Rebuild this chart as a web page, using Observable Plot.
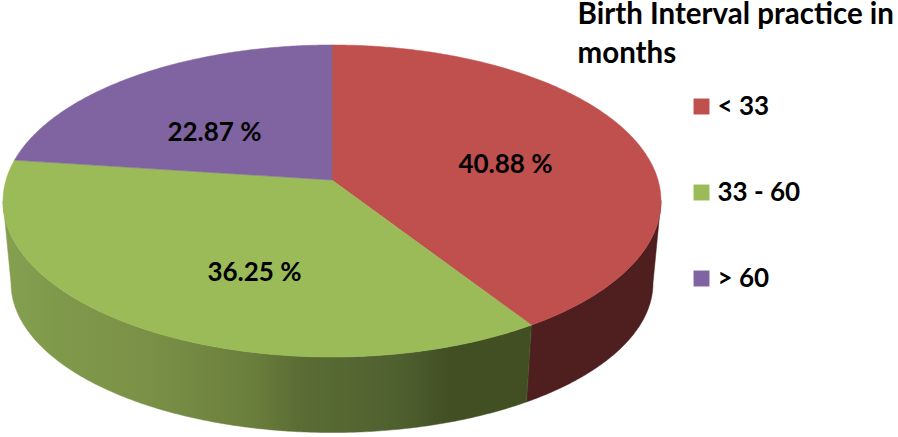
<!DOCTYPE html>
<html>
<head>
<meta charset="utf-8">
<script src="https://cdn.jsdelivr.net/npm/d3@7"></script>
<script src="https://cdn.jsdelivr.net/npm/@observablehq/plot@0.6"></script>
<style>
html,body{margin:0;padding:0;background:#fff;overflow:hidden}
svg{display:block}
</style>
</head>
<body>
<div id="chart"></div>
<script>
// Data
const categories = ["< 33", "33 - 60", "> 60"];
const shares = [40.88, 36.25, 22.87];
const shareLabels = ["40.88 %", "36.25 %", "22.87 %"];
const legendTitle = ["Birth Interval practice in", "months"];

// Appearance
const topColors = ["#c0504d", "#9bbb59", "#8064a2"];
const rimGreenX = [10, 60, 150, 250, 300, 400, 450, 530];
const rimGreenColor = ["#859f50", "#7f994b", "#7a9046", "#6b7f3d", "#5b6d34", "#4f6030", "#414f22", "#414f22"];
const rimFills = ["#4e1f1e", "url(#rimGreen)", "#4c3b61"];
const labelX = [505, 254, 214];
const labelY = [164, 272, 132];
const legendY = [106, 192, 278];

// Perspective pie: the apex sits behind the centre of the visible ellipse
const apexX = 332, apexY = 180;
const spanX = 326, spanY = 153.2, tilt = 0.1346;
const topMidY = 201, topRy = 156, topRx = 329;
const botMidY = 283, botRy = 149.5, botRx = 321;

const project = (deg) => {
  const t = deg * Math.PI / 180, w = 1 + tilt * Math.cos(t);
  return [apexX + spanX * Math.sin(t) / w, apexY - spanY * Math.cos(t) / w];
};
const toBottom = ([x, y]) => [
  apexX + (x - apexX) * botRx / topRx,
  botMidY + (y - topMidY) * botRy / topRy
];

// The rim is only seen between the two side tangents of the top ellipse
const sideAngle = Math.acos(-tilt) * 180 / Math.PI;

const total = d3.sum(shares);
const ends = d3.cumsum(shares).map((v) => v / total * 360);
const starts = [0, ...ends.slice(0, -1)];

const wedgePoints = [];
const rimPoints = [];
categories.forEach((c, i) => {
  const a0 = starts[i], a1 = ends[i];
  const steps = Math.ceil(a1 - a0) * 2;
  for (let k = 0; k <= steps; k++) {
    const deg = a0 + (a1 - a0) * k / steps;
    const p = project(deg);
    wedgePoints.push({c, x2: p[0], y2: p[1], fill: topColors[i]});
  }
  const r0 = Math.max(a0, sideAngle), r1 = Math.min(a1, 360 - sideAngle);
  if (r1 > r0) {
    const rimSteps = Math.ceil(r1 - r0) * 2;
    for (let k = 0; k <= rimSteps; k++) {
      const p = project(r0 + (r1 - r0) * k / rimSteps);
      const b = toBottom(p);
      rimPoints.push({c, x1: p[0], y1: p[1], x2: b[0], y2: b[1], fill: rimFills[i]});
    }
  }
});

const labelData = shareLabels.map((t, i) => ({t, x: labelX[i], y: labelY[i]}));
const legendData = categories.map((c, i) => ({c, y: legendY[i], fill: topColors[i]}));
const font = "Lato, 'Open Sans', sans-serif";

// The rim's shading, placed through the x scale
const rimGradient = (index, {x}) => {
  const svgNS = "http://www.w3.org/2000/svg";
  const defs = document.createElementNS(svgNS, "defs");
  const g = document.createElementNS(svgNS, "linearGradient");
  g.setAttribute("id", "rimGreen");
  g.setAttribute("gradientUnits", "userSpaceOnUse");
  const x0 = x(rimGreenX[0]), x1 = x(rimGreenX[rimGreenX.length - 1]);
  g.setAttribute("x1", x0); g.setAttribute("x2", x1);
  g.setAttribute("y1", 0); g.setAttribute("y2", 0);
  rimGreenX.forEach((v, i) => {
    const s = document.createElementNS(svgNS, "stop");
    s.setAttribute("offset", (x(v) - x0) / (x1 - x0));
    s.setAttribute("stop-color", rimGreenColor[i]);
    g.append(s);
  });
  defs.append(g);
  return defs;
};

const chart = Plot.plot({
  width: 898,
  height: 437,
  margin: 0,
  x: {type: "linear", domain: [0, 898], range: [0, 898], axis: null},
  y: {type: "linear", domain: [0, 437], range: [0, 437], axis: null},
  color: {type: "identity"},
  style: {background: "#fff", fontFamily: font},
  marks: [
    rimGradient,
    Plot.area(rimPoints, {x1: "x1", y1: "y1", x2: "x2", y2: "y2", z: "c", fill: "fill", stroke: "fill", strokeWidth: 0.5, curve: "linear"}),
    Plot.area(wedgePoints, {x1: () => apexX, y1: () => apexY, x2: "x2", y2: "y2", z: "c", fill: "fill", stroke: "fill", strokeWidth: 0.5, curve: "linear"}),
    Plot.text(labelData, {x: "x", y: "y", text: "t", fill: "#000", fontSize: 26, fontWeight: 700, textAnchor: "middle", lineAnchor: "middle"}),
    Plot.text(legendTitle, {x: () => 577, y: (d, i) => 14 + i * 39, text: (d) => d, fill: "#000", fontSize: 29.5, fontWeight: 700, textAnchor: "start", lineAnchor: "middle"}),
    Plot.dot(legendData, {x: () => 701, y: "y", symbol: "square", r: 9, fill: "fill", stroke: "none"}),
    Plot.text(legendData, {x: () => 717, y: "y", text: "c", fill: "#000", fontSize: 26, fontWeight: 700, textAnchor: "start", lineAnchor: "middle"})
  ]
});
document.getElementById("chart").append(chart);
</script>
</body>
</html>
